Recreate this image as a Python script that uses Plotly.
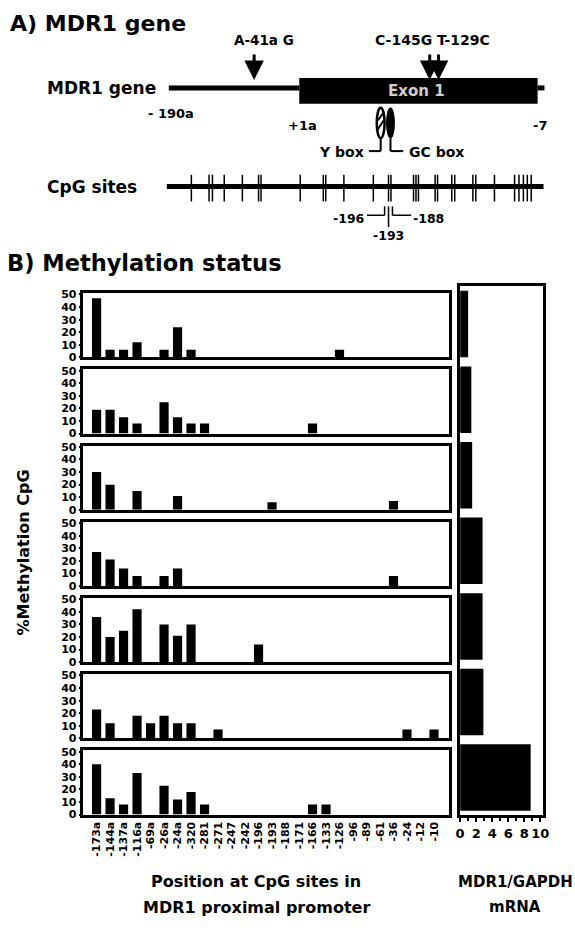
import plotly.graph_objects as go

W, H = 575, 928
FONT = "DejaVu Sans, Verdana, sans-serif"

# ---------------- data ----------------
positions = ["-173a", "-144a", "-137a", "-116a", "-69a", "-26a", "-24a", "-320", "-281",
             "-271", "-247", "-242", "-196", "-193", "-188", "-171", "-166", "-133",
             "-126", "-96", "-89", "-61", "-36", "-24", "-12", "-10"]

sample1 = [47, 6, 6, 12, 0, 6, 24, 6, 0, 0, 0, 0, 0, 0, 0, 0, 0, 0, 6, 0, 0, 0, 0, 0, 0, 0]
sample2 = [19, 19, 13, 8, 0, 25, 13, 8, 8, 0, 0, 0, 0, 0, 0, 0, 8, 0, 0, 0, 0, 0, 0, 0, 0, 0]
sample3 = [30, 20, 0, 15, 0, 0, 11, 0, 0, 0, 0, 0, 0, 6, 0, 0, 0, 0, 0, 0, 0, 0, 7, 0, 0, 0]
sample4 = [27, 21, 14, 8, 0, 8, 14, 0, 0, 0, 0, 0, 0, 0, 0, 0, 0, 0, 0, 0, 0, 0, 8, 0, 0, 0]
sample5 = [36, 20, 25, 42, 0, 30, 21, 30, 0, 0, 0, 0, 14, 0, 0, 0, 0, 0, 0, 0, 0, 0, 0, 0, 0, 0]
sample6 = [23, 12, 0, 18, 12, 18, 12, 12, 0, 7, 0, 0, 0, 0, 0, 0, 0, 0, 0, 0, 0, 0, 0, 7, 0, 7]
sample7 = [40, 13, 8, 33, 0, 23, 12, 18, 8, 0, 0, 0, 0, 0, 0, 0, 8, 8, 0, 0, 0, 0, 0, 0, 0, 0]
samples = [sample1, sample2, sample3, sample4, sample5, sample6, sample7]

sample_ids = ["1", "2", "3", "4", "5", "6", "7"]
mdr1_gapdh = [1.0, 1.4, 1.5, 2.8, 2.8, 2.9, 8.8]

methyl_ticks = [0, 10, 20, 30, 40, 50]
mrna_ticks = [0, 2, 4, 6, 8, 10]

# CpG site marks along the diagram line (diagram pixel positions)
cpg_marks = [190, 208, 211.5, 223.5, 242, 258.5, 261, 301, 324.5, 327, 345.5, 375.5,
             391, 393.5, 416.5, 419, 421.5, 438.5, 441, 455.5, 458.5, 477, 480, 499,
             519.5, 524, 528.5, 532.5, 536.5]


def px(x):
    return x / W


def py(y):
    return 1 - y / H


fig = go.Figure()

# ---------------- panel B bars ----------------
panel_left, panel_right = 80, 452.5
tops = [292 + 77.2 * i for i in range(7)]
ph = 65
ytickfont = dict(family=FONT, size=11, color="black", weight="bold")
xtickfont = dict(family=FONT, size=13, color="black", weight="bold")

for i, vals in enumerate(samples):
    n = i + 1
    xa = "x" if n == 1 else f"x{n}"
    ya = "y" if n == 1 else f"y{n}"
    fig.add_trace(go.Bar(x=positions, y=vals, marker=dict(color="black", line=dict(width=0)),
                         xaxis=xa, yaxis=ya, showlegend=False, width=0.68))
    top = tops[i]
    bot = top + ph
    fig.layout[f"xaxis{'' if n == 1 else n}"] = dict(
        domain=[px(panel_left), px(panel_right)], anchor=ya, type="category",
        categoryorder="array", categoryarray=positions, range=[-0.97, 26.1],
        showline=True, mirror=True, linecolor="black", linewidth=2.5,
        ticks="", showgrid=False, zeroline=False,
        showticklabels=(n == 7), tickangle=-90,
        tickfont=dict(family=FONT, size=11, color="black", weight="bold"),
    )
    fig.layout[f"yaxis{'' if n == 1 else n}"] = dict(
        domain=[py(bot), py(top)], anchor=xa, range=[0, 51],
        tickvals=methyl_ticks, ticks="outside", ticklen=2, tickwidth=1.5, tickcolor="black",
        showline=True, mirror=True, linecolor="black", linewidth=2.5,
        showgrid=False, zeroline=False, tickfont=ytickfont,
    )

# ---------------- MDR1/GAPDH panel ----------------
fig.add_trace(go.Bar(x=mdr1_gapdh, y=sample_ids, orientation="h",
                     marker=dict(color="black", line=dict(width=0)),
                     xaxis="x8", yaxis="y8", showlegend=False))
fig.layout["xaxis8"] = dict(
    domain=[px(464), px(549)], anchor="y8", range=[0, 10.4],
    tickvals=mrna_ticks, ticks="outside", ticklen=4, tickwidth=1.5, tickcolor="black",
    minor=dict(dtick=1, ticks="outside", ticklen=3, tickcolor="black"),
    showline=True, mirror=True, linecolor="black", linewidth=2.5,
    showgrid=False, zeroline=False, tickfont=xtickfont,
)
fig.layout["yaxis8"] = dict(
    domain=[py(821), py(285)], anchor="x8", type="category",
    categoryorder="array", categoryarray=sample_ids, autorange="reversed",
    showline=True, mirror=True, linecolor="black", linewidth=2.5,
    showticklabels=False, ticks="", showgrid=False, zeroline=False,
)
fig.update_layout(bargap=0.12)

# ---------------- panel A diagram ----------------
shapes = []
annotations = []


def line(x0, y0, x1, y1, w=2, color="black"):
    shapes.append(dict(type="line", xref="paper", yref="paper", x0=px(x0), y0=py(y0),
                       x1=px(x1), y1=py(y1), line=dict(color=color, width=w)))


def text(x, y, s, size=13, xanchor="center", color="black", angle=0):
    annotations.append(dict(xref="paper", yref="paper", x=px(x), y=py(y), text=s,
                            showarrow=False, xanchor=xanchor, yanchor="middle", textangle=angle,
                            font=dict(family=FONT, size=size, color=color, weight="bold")))


def arrow(x, ytail, yhead):
    annotations.append(dict(xref="paper", yref="paper", x=px(x), y=py(yhead), ax=0,
                            ay=ytail - yhead, axref="pixel", ayref="pixel", text="",
                            showarrow=True, arrowhead=2, arrowsize=1.3, arrowwidth=3,
                            arrowcolor="black"))


# gene
line(167, 84, 300, 84, w=5)
line(543, 84, 550, 84, w=5)
shapes.append(dict(type="rect", xref="paper", yref="paper", x0=px(300), y0=py(100),
                   x1=px(543), y1=py(74), fillcolor="black", line=dict(width=0)))
text(420, 87, "Exon 1", size=15, color="#cfcfcf")
arrow(254, 49, 76)
arrow(433, 49, 76)
arrow(442, 49, 76)
text(264, 35, "A-41a G", size=13.5)
text(436, 35, "C-145G T-129C", size=14)
text(98, 84, "MDR1 gene", size=17)
text(169, 110, "- 190a", size=13)
text(303, 122, "+1a", size=13)
text(545, 122, "-7", size=13)

# Y box / GC box
shapes.append(dict(type="circle", xref="paper", yref="paper", x0=px(379), y0=py(135),
                   x1=px(387), y1=py(104), fillcolor="white", line=dict(color="black", width=2.5)))
line(380, 126, 386, 117, w=2)
line(380, 117, 386, 109, w=2)
shapes.append(dict(type="circle", xref="paper", yref="paper", x0=px(389), y0=py(135),
                   x1=px(397), y1=py(104), fillcolor="black", line=dict(color="black", width=1)))
line(383, 135, 383, 148, w=2)
line(383, 148, 371, 148, w=2)
line(393, 135, 393, 148, w=2)
line(393, 148, 406, 148, w=2)
text(343, 149, "Y box", size=14)
text(440, 149, "GC box", size=14)

# CpG sites
text(89, 184, "CpG sites", size=17)
line(165, 184, 549, 184, w=5)
for cx in cpg_marks:
    line(cx, 172, cx, 199, w=1.5)
line(369, 213, 387, 213, w=1.5)
line(387, 204, 387, 213, w=1.5)
line(391, 204, 391, 225, w=1.5)
line(395, 204, 395, 213, w=1.5)
line(395, 213, 414, 213, w=1.5)
text(351, 216, "-196", size=12.5)
text(432, 216, "-188", size=12.5)
text(391, 234, "-193", size=12.5)

# section titles and axis titles
text(3, 19, "A) MDR1 gene", size=22, xanchor="left")
text(0, 261, "B) Methylation status", size=22.5, xanchor="left")
text(19, 555, "%Methylation CpG", size=16, angle=-90)
text(256, 888, "Position at CpG sites in", size=16)
text(256, 914, "MDR1 proximal promoter", size=16)
text(520, 888, "MDR1/GAPDH", size=15)
text(520, 914, "mRNA", size=15)

fig.update_layout(
    width=W, height=H, margin=dict(l=0, r=0, t=0, b=0),
    paper_bgcolor="white", plot_bgcolor="white",
    shapes=shapes, annotations=annotations, showlegend=False,
    font=dict(family=FONT, color="black"),
)

fig.write_html("out.html", config={"displayModeBar": False},
               post_script="document.body.style.margin='0';")
